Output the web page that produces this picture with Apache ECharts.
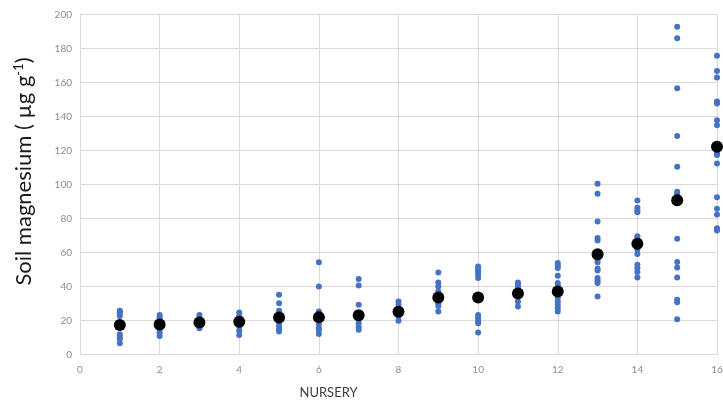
<!DOCTYPE html>
<html>
<head>
<meta charset="utf-8">
<script src="https://cdn.jsdelivr.net/npm/echarts@6/dist/echarts.min.js"></script>
<style>html,body{margin:0;padding:0;background:#fff}#c{width:723px;height:402px}</style>
</head>
<body>
<div id="c"></div>
<script>
const nurseries = [1,2,3,4,5,6,7,8,9,10,11,12,13,14,15,16];
const samples = [
  [25.8,24.8,24.3,22.7,11.9,10.5,9.1,6.6],
  [23.3,21.9,20.4,14.9,12.9,10.9],
  [23.3,21.4,16.4,15.5],
  [24.7,22.7,20.8,16.4,14.0,11.5],
  [35.1,30.2,25.7,18.8,16.8,14.9,13.5],
  [54.2,40.0,25.3,18.0,15.5,14.5,12.1],
  [44.4,40.6,29.2,20.4,18.4,16.0,14.5],
  [31.2,29.2,27.3,22.3,19.9],
  [48.3,42.4,40.0,37.0,35.1,30.2,28.6,25.3],
  [51.8,50.3,48.8,46.9,45.0,23.3,21.4,19.9,18.4,12.9],
  [42.4,41.0,39.6,38.0,31.2,28.2],
  [53.8,52.2,50.9,46.3,42.0,40.4,33.2,31.2,29.2,27.3,25.3],
  [100.4,94.5,78.3,68.5,67.1,55.8,54.2,50.6,49.4,45.0,43.4,42.0,34.1],
  [90.6,86.3,84.9,83.7,69.5,68.1,63.5,61.6,59.1,52.8,50.9,48.5,45.3],
  [192.8,186.0,156.6,128.5,110.4,95.7,94.7,93.5,68.1,54.4,51.2,45.3,32.2,30.8,20.8],
  [175.7,166.8,162.9,148.8,147.6,137.8,134.8,118.3,117.3,112.4,92.5,85.7,82.3,74.2,73.0]
];
const means = [17.4,17.6,18.8,19.2,21.7,21.9,23.1,25.1,33.5,33.5,35.9,37.0,59.0,65.2,90.7,122.2];
const xTicks = {min:0, max:16, interval:2};
const yTicks = {min:0, max:200, interval:20};

const sampleData = [];
nurseries.forEach((n,i)=>samples[i].forEach(v=>sampleData.push([n,v])));
const meanData = nurseries.map((n,i)=>[n,means[i]]);

const chart = echarts.init(document.getElementById('c'));
const gridColor = '#d9d9d9';
chart.setOption({
  animation:false,
  grid:{left:80,right:6,top:14.5,bottom:47.5,containLabel:false,outerBoundsMode:'none'},
  xAxis:{
    type:'value', min:xTicks.min, max:xTicks.max, interval:xTicks.interval,
    name:'NURSERY', nameLocation:'middle', nameGap:32,
    nameTextStyle:{fontFamily:'Lato', fontSize:13, color:'#404040', padding:[0,140,0,0]},
    axisLine:{show:true, lineStyle:{color:gridColor}},
    axisTick:{show:false},
    axisLabel:{color:'#8c8c8c', fontSize:10, fontFamily:'Lato', margin:10},
    splitLine:{show:true, lineStyle:{color:gridColor}}
  },
  yAxis:{
    type:'value', min:yTicks.min, max:yTicks.max, interval:yTicks.interval,
    name:'{a|Soil magnesium ( µg g}{s|-1}{a|)}', nameLocation:'middle', nameGap:45,
    nameTextStyle:{padding:[0,0,0,26], rich:{
      a:{fontFamily:'Lato', fontSize:22, color:'#1a1a1a'},
      s:{fontFamily:'Lato', fontSize:13, color:'#1a1a1a', verticalAlign:'top', padding:[0,0,10,0]}
    }},
    axisLine:{show:true, lineStyle:{color:gridColor}},
    axisTick:{show:false},
    axisLabel:{color:'#8c8c8c', fontSize:10, fontFamily:'Lato', margin:8},
    splitLine:{show:true, lineStyle:{color:gridColor}}
  },
  series:[
    {type:'scatter', data:sampleData, symbolSize:6, itemStyle:{color:'#4472C4', opacity:1}, z:2},
    {type:'scatter', data:meanData, symbolSize:12, itemStyle:{color:'#000', opacity:1}, z:3}
  ]
});
</script>
</body>
</html>
